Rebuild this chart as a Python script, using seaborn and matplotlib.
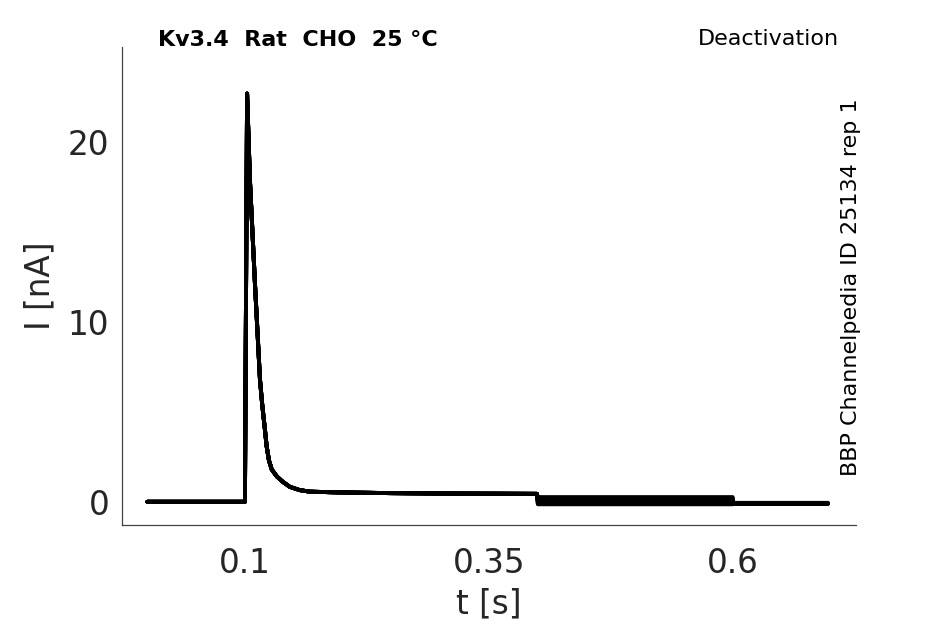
import matplotlib
matplotlib.use("Agg")
import matplotlib.pyplot as plt
import seaborn as sns
import pandas as pd

# Shared part of every sweep (hold, step, decay)
t_shared = [0.0, 0.1, 0.1022, 0.1051, 0.1102, 0.1154, 0.1177, 0.1205, 0.1222,
            0.1246, 0.1274, 0.1328, 0.139, 0.146, 0.156, 0.1666, 0.197,
            0.250, 0.300, 0.399]
i_shared = [0.0, 0.0, 22.7, 17.9, 12.2, 6.8, 5.4, 4.0, 3.1,
            2.3, 1.8, 1.4, 1.1, 0.83, 0.65, 0.56, 0.52,
            0.48, 0.46, 0.44]

# Tail (0.4-0.6 s) and final (0.6-0.7 s) levels for each sweep
tail_levels = [0.26, 0.18, 0.10, 0.03, -0.04, -0.10, -0.14]
final_levels = [-0.06, -0.07, -0.08, -0.09, -0.10, -0.11, -0.12]
t_tail = [0.4, 0.5995]
t_final = [0.6, 0.697]

xticks = [0.1, 0.35, 0.6]
yticks = [0, 10, 20]

rows = []
for k, (tl, fl) in enumerate(zip(tail_levels, final_levels)):
    ts = t_shared + t_tail + t_final
    vs = i_shared + [tl, tl] + [fl, fl]
    for order, (tt, vv) in enumerate(zip(ts, vs)):
        rows.append({"sweep": k, "order": order, "t": tt, "I": vv})
df = pd.DataFrame(rows)

sns.set_theme(style="white")
plt.rcParams['font.family'] = ['DejaVu Sans']

fig = plt.figure(figsize=(9.45, 6.24), dpi=100)
ax = fig.add_axes([0.129, 0.159, 0.777, 0.766])

sns.lineplot(data=df, x="t", y="I", units="sweep", estimator=None, sort=False,
             color="black", linewidth=2.8, ax=ax)

ax.set_xlim(-0.026, 0.726)
ax.set_ylim(-1.28, 25.3)
ax.set_xticks(xticks)
ax.set_xticklabels([str(v) for v in xticks])
ax.set_yticks(yticks)
ax.set_yticklabels([str(v) for v in yticks])

txtc = "#262626"
ax.tick_params(direction="in", length=5, width=0.8, colors="#444444",
               labelcolor=txtc, labelsize=23.5)
ax.tick_params(axis="x", pad=16)
ax.tick_params(axis="y", pad=9)
ax.set_xlabel("t [s]", fontsize=23.5, color=txtc, labelpad=5)
ax.set_ylabel("I [nA]", fontsize=23.5, color=txtc, labelpad=8)

for s in ["top", "right"]:
    ax.spines[s].set_visible(False)
for s in ["left", "bottom"]:
    ax.spines[s].set_color("#444444")
    ax.spines[s].set_linewidth(0.9)

fig.text(158 / 945, 1 - 40 / 624, "Kv3.4  Rat  CHO  25 °C", fontsize=16,
         fontweight="bold", color="black", ha="left", va="center")
fig.text(839 / 945, 1 - 39 / 624, "Deactivation", fontsize=16,
         color="black", ha="right", va="center")
fig.text(851 / 945, 1 - 287 / 624, "BBP Channelpedia ID 25134 rep 1",
         fontsize=16, color="black", rotation=90, ha="center", va="center")

fig.savefig("out.png", dpi=100)
